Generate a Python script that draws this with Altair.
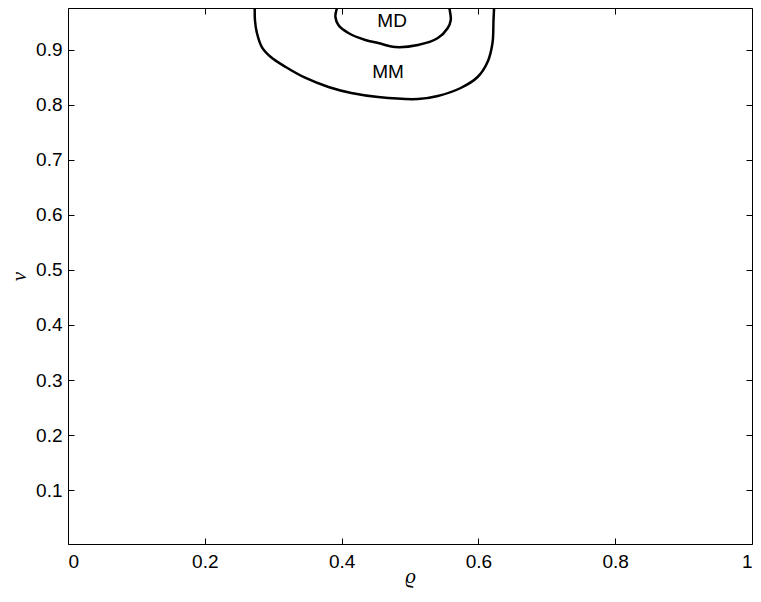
import altair as alt
import pandas as pd

# Contour "MM" (outer) and "MD" (inner)
mm_rho = [0.2733, 0.2733, 0.2762, 0.2834, 0.2965, 0.3183, 0.3474, 0.3808, 0.4142,
          0.4535, 0.5116, 0.5407, 0.5741, 0.5988, 0.6134, 0.6206, 0.6221, 0.6235]
mm_nu = [0.991, 0.9545, 0.9309, 0.9054, 0.8873, 0.8691, 0.8491, 0.8327, 0.8218,
         0.8145, 0.8109, 0.8164, 0.8309, 0.8509, 0.8782, 0.9127, 0.9545, 0.991]

md_rho = [0.3997, 0.3924, 0.3910, 0.3953, 0.4099, 0.4346, 0.4535, 0.4782, 0.5116,
          0.5407, 0.5552, 0.5596, 0.5581, 0.5552]
md_nu = [0.991, 0.9727, 0.96, 0.9455, 0.9309, 0.9182, 0.9127, 0.9054, 0.9091,
         0.9218, 0.94, 0.9545, 0.9727, 0.991]

label_text = ["MD", "MM"]
label_rho = [0.4738, 0.468]
label_nu = [0.9527, 0.86]

x_ticks = [0, 0.2, 0.4, 0.6, 0.8, 1]
y_ticks = [0.1, 0.2, 0.3, 0.4, 0.5, 0.6, 0.7, 0.8, 0.9]
x_domain = [0, 1]
y_domain = [0.00182, 0.97636]

W, H = 684, 536

rows = []
for i, (a, b) in enumerate(zip(mm_rho, mm_nu)):
    rows.append({"curve": "MM", "i": i, "rho": a, "nu": b})
for i, (a, b) in enumerate(zip(md_rho, md_nu)):
    rows.append({"curve": "MD", "i": i, "rho": a, "nu": b})
lines_df = pd.DataFrame(rows)
labels_df = pd.DataFrame({"text": label_text, "rho": label_rho, "nu": label_nu})

xscale = alt.Scale(domain=x_domain, nice=False, zero=False)
yscale = alt.Scale(domain=y_domain, nice=False, zero=False)

FONT = "Liberation Sans"
FS = 19

x_main = alt.Axis(orient="bottom", values=x_ticks, format="~g", ticks=False, domain=False,
                  grid=False, labelPadding=8, labelFontSize=FS, labelFont=FONT,
                  labelColor="black", title="ϱ", titleFont="Liberation Serif",
                  titleFontStyle="italic", titleFontWeight="normal", titleFontSize=21,
                  titleColor="black", titleBaseline="middle", titleY=32)
y_main = alt.Axis(orient="left", values=y_ticks, format=".1f", ticks=False, domain=False,
                  grid=False, labelPadding=6, labelFontSize=FS, labelFont=FONT,
                  labelColor="black", title="ν", titleFont="Liberation Serif",
                  titleFontStyle="italic", titleFontWeight="normal", titleFontSize=21,
                  titleColor="black", titlePadding=6)

def tick_axis(orient, vals):
    return alt.Axis(orient=orient, values=vals, offset=-(H if orient in ("top", "bottom") else W),
                    labels=False, domain=False, grid=False, ticks=True, tickSize=6,
                    tickColor="black", tickWidth=1, title=None)

lines = alt.Chart(lines_df).mark_line(color="black", strokeWidth=2.5,
                                      interpolate="catmull-rom", clip=True).encode(
    x=alt.X("rho:Q", scale=xscale, axis=x_main),
    y=alt.Y("nu:Q", scale=yscale, axis=y_main),
    detail="curve:N",
    order="i:Q",
)

texts = alt.Chart(labels_df).mark_text(font=FONT, fontSize=FS, color="black").encode(
    x=alt.X("rho:Q", scale=xscale, axis=tick_axis("top", x_ticks)),
    y=alt.Y("nu:Q", scale=yscale, axis=tick_axis("right", y_ticks)),
    text="text:N",
)

ghost = alt.Chart(lines_df).mark_point(opacity=0, clip=True).encode(
    x=alt.X("rho:Q", scale=xscale, axis=tick_axis("bottom", x_ticks)),
    y=alt.Y("nu:Q", scale=yscale, axis=tick_axis("left", y_ticks)),
)

chart = alt.layer(lines, texts, ghost).resolve_axis(
    x="independent", y="independent"
).properties(
    width=W, height=H,
    autosize=alt.AutoSizeParams(type="none"),
    padding={"left": 60, "top": 0, "right": 1, "bottom": 50},
    background="white",
).configure_view(stroke="black", strokeWidth=1)

chart.save("out.html", embed_options={"renderer": "svg", "actions": False})
